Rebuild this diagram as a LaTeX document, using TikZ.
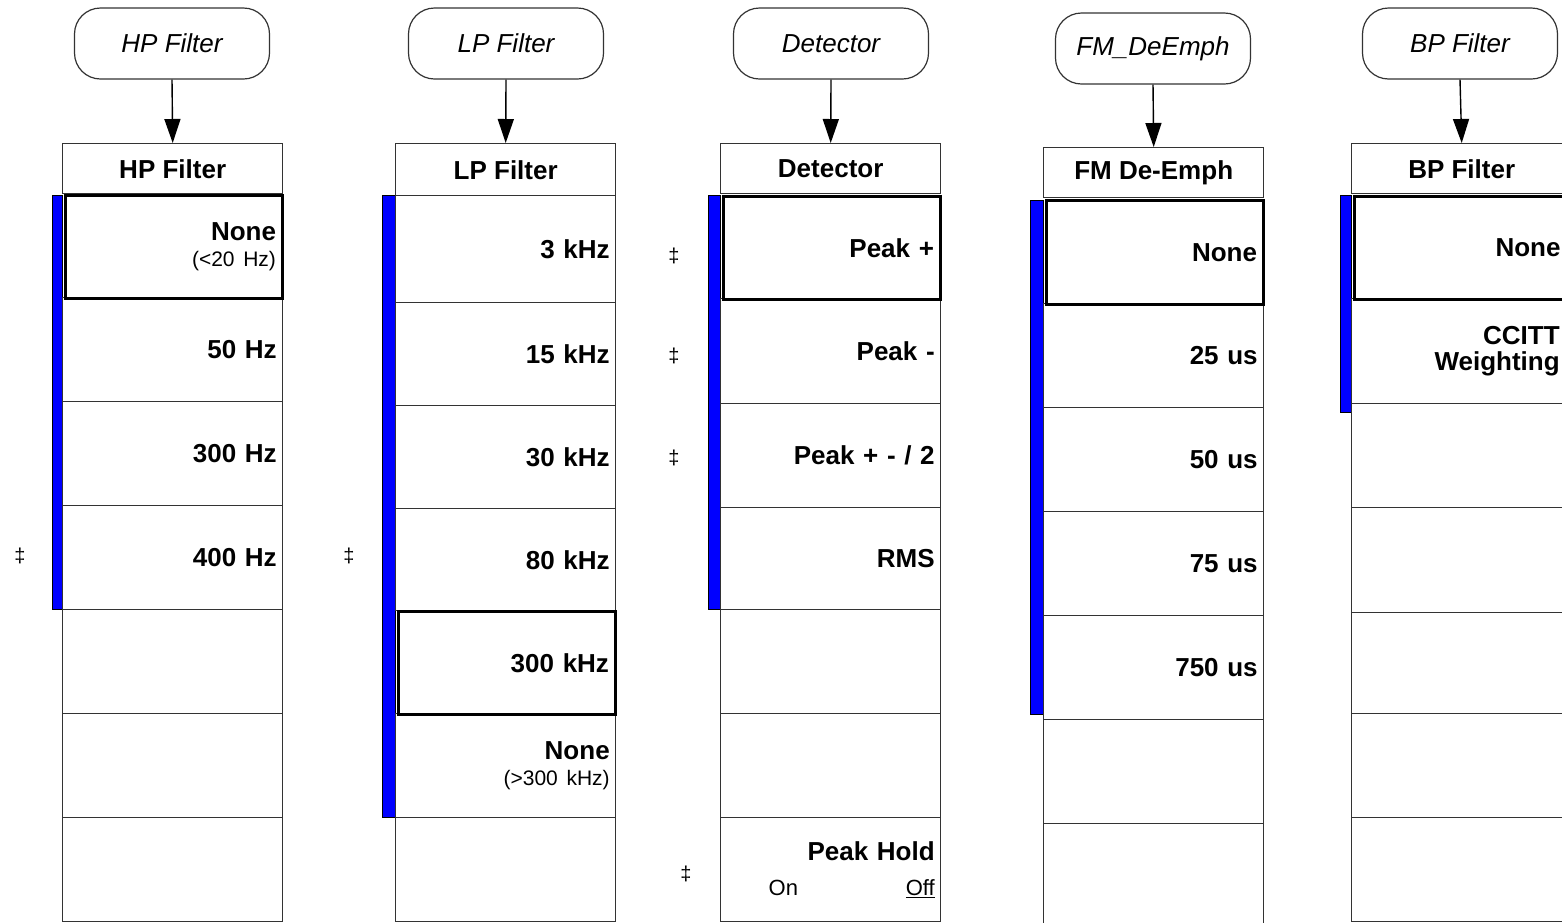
\documentclass[tikz,border=0pt]{standalone}
\usepackage{fontspec}
\setmainfont{Liberation Sans}
\usetikzlibrary{arrows.meta}
\tikzset{
  x=1pt, y=-1pt,
  linecol/.style={draw=black!80, line width=1.4pt},
  oval/.style={linecol, line width=1.2pt, rectangle, rounded corners=26pt, minimum width=195pt, minimum height=71pt, inner sep=0pt, font=\fontsize{26}{28}\selectfont\itshape},
  headbox/.style={linecol, rectangle, anchor=north west, minimum width=220pt, inner sep=0pt, font=\fontsize{26}{28}\selectfont\bfseries},
  rowbox/.style={linecol, rectangle, anchor=north west, minimum width=220pt, text width=208pt, inner xsep=6pt, inner ysep=0pt, align=right, font=\fontsize{26}{28}\selectfont\bfseries},
  selbox/.style={line width=3pt, draw=black, minimum width=217pt, text width=205pt, xshift=1.5pt},
  edgetext/.style={text width=196pt},
  bluebar/.style={fill=blue, draw=black, line width=1pt},
  conn/.style={draw=black, line width=1.4pt, -{Triangle[width=16pt,length=24pt]}},
  dag/.style={font=\fontsize{20}{22}\selectfont, inner sep=0pt},
}
\newcommand{\subt}[1]{{\fontsize{21}{26}\selectfont\mdseries #1}}
% \mkrow[opts]{name}{x}{ytop}{height}{text}
\newcommand{\mkrow}[6][]{\node[rowbox, minimum height=#5pt, #1] (#2) at (#3,#4) {#6};}
\begin{document}
\begin{tikzpicture}
\useasboundingbox (0,0) rectangle (1562,922);
\clip (0,0) rectangle (1562,922);
\fill[white] (0,0) rectangle (1562,922);

% ---------- Column 1: HP Filter ----------
\node[oval] (o1) at (172,43.5) {HP Filter};
\node[headbox, minimum height=50pt] (h1) at (62,143) {HP Filter};
\draw[bluebar] (52,195) rectangle (62,609);
\mkrow{a2}{62}{297}{104}{50 Hz}
\mkrow{a3}{62}{401}{104}{300 Hz}
\mkrow{a4}{62}{505}{104}{400 Hz}
\mkrow{a5}{62}{609}{104}{}
\mkrow{a6}{62}{713}{104}{}
\mkrow{a7}{62}{817}{104}{}
\mkrow[selbox]{a1}{62}{194}{103}{None\\[-2pt]\subt{(<20 Hz)}}
\node[dag] (d1) at (20,556) {‡};
\draw[conn] (o1.south) -- (h1.north);

% ---------- Column 2: LP Filter ----------
\node[oval] (o2) at (506,43.5) {LP Filter};
\node[headbox, minimum height=52pt] (h2) at (395,143) {LP Filter};
\draw[bluebar] (382,195) rectangle (395,817);
\mkrow{b1}{395}{195}{107}{3 kHz}
\mkrow{b2}{395}{302}{103}{15 kHz}
\mkrow{b3}{395}{405}{103}{30 kHz}
\mkrow{b4}{395}{508}{102}{80 kHz}
\mkrow{b6}{395}{713}{104}{None\\[-2pt]\subt{(>300 kHz)}}
\mkrow{b7}{395}{817}{104}{}
\mkrow[selbox]{b5}{395}{610}{103}{300 kHz}
\node[dag] (d2) at (349,556) {‡};
\draw[conn] (o2.south) -- (h2.north);

% ---------- Column 3: Detector ----------
\node[oval] (o3) at (831,43.5) {Detector};
\node[headbox, minimum height=50pt] (h3) at (720,143) {Detector};
\draw[bluebar] (708,195) rectangle (720,609);
\mkrow{c2}{720}{298}{105}{Peak -}
\mkrow{c3}{720}{403}{104}{Peak + - / 2}
\mkrow{c4}{720}{507}{102}{RMS}
\mkrow{c5}{720}{609}{104}{}
\mkrow{c6}{720}{713}{104}{}
\mkrow{c7}{720}{817}{104}{Peak Hold\\[7pt]\makebox[166pt]{\fontsize{22}{26}\selectfont\mdseries On\hfill\underline{Off}}}
\mkrow[selbox]{c1}{720}{195}{103}{Peak +}
\node[dag] (d3a) at (674,256) {‡};
\node[dag] (d3b) at (674,356) {‡};
\node[dag] (d3c) at (674,458) {‡};
\node[dag] (d3d) at (686,874) {‡};
\draw[conn] (o3.south) -- (h3.north);

% ---------- Column 4: FM De-Emph ----------
\node[oval] (o4) at (1153,48.5) {FM\_DeEmph};
\node[headbox, minimum height=50pt] (h4) at (1043,147) {FM De-Emph};
\draw[bluebar] (1030,200) rectangle (1043,714);
\mkrow{e2}{1043}{303}{104}{25 us}
\mkrow{e3}{1043}{407}{104}{50 us}
\mkrow{e4}{1043}{511}{104}{75 us}
\mkrow{e5}{1043}{615}{104}{750 us}
\mkrow{e6}{1043}{719}{104}{}
\mkrow{e7}{1043}{823}{104}{}
\mkrow[selbox]{e1}{1043}{199}{104}{None}
\draw[conn] (o4.south) -- (h4.north);

% ---------- Column 5: BP Filter ----------
\node[oval] (o5) at (1460,43.5) {BP Filter};
\node[headbox, minimum height=50pt] (h5) at (1351,143) {BP Filter};
\draw[bluebar] (1340,195) rectangle (1351,412);
\mkrow[edgetext]{f2}{1351}{298}{105}{CCITT\\[-2pt]Weighting}
\mkrow{f3}{1351}{403}{104}{}
\mkrow{f4}{1351}{507}{105}{}
\mkrow{f5}{1351}{612}{101}{}
\mkrow{f6}{1351}{713}{104}{}
\mkrow{f7}{1351}{817}{104}{}
\mkrow[selbox,edgetext]{f1}{1351}{195}{103}{None}
\draw[conn] (o5.south) -- (h5.north);
\end{tikzpicture}
\end{document}
